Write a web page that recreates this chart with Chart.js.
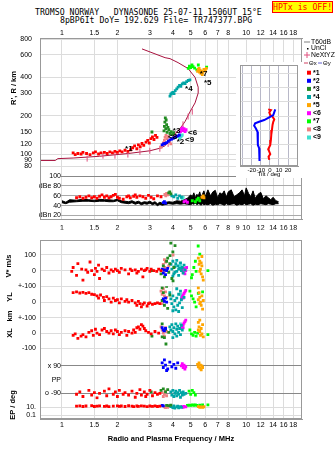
<!DOCTYPE html>
<html>
<head>
<meta charset="utf-8">
<title>Dynasonde ionogram</title>
<script src="https://cdn.jsdelivr.net/npm/chart.js@4/dist/chart.umd.min.js"></script>
<style>
  html, body { margin: 0; padding: 0; background: #fff; }
  #page { position: relative; width: 335px; height: 451px; overflow: hidden; }
  #page canvas { position: absolute; }
  .hdr { position: absolute; font: 8.2px 'DejaVu Sans Mono', monospace; line-height: 8px; white-space: pre; color: #000; }
  #hptx { position: absolute; left: 272px; top: 1px; width: 59px; height: 10px; border: 1px solid #f00; background: #ff0; color: #f00;
          font: 8.2px 'DejaVu Sans Mono', monospace; line-height: 10px; text-align: center; white-space: pre; }
</style>
</head>
<body>
<div id="page">
  <div class="hdr" style="left:35px;top:8px">TROMSO NORWAY   DYNASONDE 25-07-11 1506UT 15°E</div>
  <div class="hdr" style="left:60px;top:16px">8pBP6It DoY= 192.629 File= TR747377.BPG</div>
  <div id="hptx">HPTx is OFF!</div>
  <canvas id="topChart" width="335" height="232" style="left:0;top:0"></canvas>
  <canvas id="lowChart" width="335" height="219" style="left:0;top:232px"></canvas>
  <canvas id="tiltChart" width="66" height="116" style="left:236px;top:62px;background:#fff"></canvas>
</div>
<script>
// Axis ranges and ticks
const freqMin = 0.76, freqMax = 20.1;
const freqTicksTop = [1, 1.5, 2, 3, 4, 5, 6, 7, 8, 10, 12, 14, 16, 18];
const freqTicksMid = [1, 1.5, 2, 3, 4, 5, 6, 7, 8, 9, 10, 12, 14, 16, 18];
const freqTicksLow = [1, 1.5, 2, 3, 4, 5, 6, 7, 8, 10, 12, 14, 16, 18];
const heightTicks = [80, 90, 100, 120, 150, 200, 300, 400, 600, 800];
const dbTicks = [20, 40, 60, 80, 100];
const dbTickLabels = ['dBn 20', '40', '60', 'dBe 80', '100'];
const vTicks = [100, 0];
const vTickLabels = ['100', '0'];
const ylTicks = [100, 0, -100];
const ylTickLabels = ['+-100', '0', '+-100'];
const xlTicks = [0, -100];
const xlTickLabels = ['0', '-100'];
const ppTicks = [90, 0, -90];
const ppTickLabels = ['x 90', 'PP', 'o -90'];
const epTicks = [10, 0.1];
const epTickLabels = ['10.', '0.1'];
const tiltTicks = [-30, -20, -10, 0, 10, 20, 30];

// Echo groups
const echoTags = ['*1', '*2', '*3', '*4', '*5', '<6', '*7', '<8', '<9'];
const echoColors = ['#ff0000', '#0000ff', '#228b22', '#00a5a5', '#ffa500', '#ff00ff', '#00ff00', '#f08080', '#40e0d0'];
const tagFreq = [2.2, 4.2, 4.0, 4.66, 5.9, 4.84, 5.6, 3.77, 4.66];
const tagHeight = [110, 124, 151, 323, 362, 148, 430, 136, 129];

// Profile and NeXtYZ
const profileFreq = [0.76, 0.92, 0.95, 1.15, 1.6, 2.3, 3.0, 3.4, 3.63, 3.86, 4.11, 4.4, 4.66, 4.96, 5.28, 5.49, 5.49, 5.28, 4.84, 4.27, 3.86, 3.63, 2.72];
const profileHeight = [89, 89, 92, 93, 96, 101, 106, 111, 116, 129, 143, 160, 180, 215, 252, 301, 335, 400, 469, 522, 561, 571, 669];
const nextyzFreq = [1.37, 1.67, 1.94, 2.28, 2.65, 3.0, 3.4, 3.77, 4.11, 4.54, 4.84, 5.1];
const nextyzHeight = [92, 97, 97, 99, 104, 106, 110, 120, 143, 171, 197, 215];

// Noise band (dB)
const noiseFreq = [1.0, 1.05, 1.1, 1.2, 1.3, 1.4, 1.5, 1.6, 1.7, 1.8, 1.9, 2.0, 2.1, 2.2, 2.3, 2.4, 2.5, 2.6, 2.7, 2.8, 2.9, 3.0, 3.1, 3.2, 3.3, 3.4, 3.5, 3.6, 3.8, 4.0, 4.2, 4.4, 4.6, 4.8, 5.0,
  5.1, 5.2, 5.3, 5.4, 5.5, 5.6, 5.7, 5.8, 5.9, 6.0, 6.2, 6.4, 6.6, 6.8, 7.0, 7.2, 7.4, 7.6, 7.8, 8.0, 8.3, 8.6, 8.9, 9.2, 9.5, 9.8, 10.0, 10.3, 10.6, 10.9, 11.2, 11.6, 12.0, 12.4, 12.8, 13.2, 13.6, 14.0, 14.5, 15.0];
const noiseTop = [50, 47, 52, 51, 53, 52, 51, 53, 52, 52, 51, 53, 50, 49, 48, 50, 47, 49, 46, 48, 47, 49, 46, 48, 44, 47, 45, 46, 48, 47, 50, 49, 52, 55, 62,
  58, 66, 56, 63, 60, 68, 55, 64, 70, 58, 72, 60, 68, 71, 56, 66, 63, 70, 57, 68, 72, 58, 62, 66, 72, 60, 76, 65, 58, 70, 55, 63, 67, 54, 60, 56, 52, 57, 50, 48];
const noiseLow = [46, 44, 47, 48, 49, 49, 48, 49, 49, 48, 48, 50, 46, 45, 44, 46, 43, 45, 42, 44, 43, 45, 42, 44, 40, 43, 41, 42, 44, 43, 44, 43, 44, 43, 42,
  44, 43, 45, 42, 44, 43, 41, 44, 42, 43, 42, 44, 41, 43, 42, 44, 43, 41, 44, 42, 43, 44, 41, 43, 42, 44, 42, 43, 44, 41, 43, 42, 44, 43, 42, 44, 43, 42, 44, 44];

// Virtual height R' (km) per echo
const e1R = [[1.15,102],[1.18,99],[1.22,101],[1.27,100],[1.3,103],[1.36,101],[1.42,99],[1.48,102],[1.52,104],[1.58,100],[1.63,102],[1.7,103],[1.76,101],[1.82,104],[1.88,102],[1.94,105],[2.0,103],[2.06,106],[2.12,104],[2.2,107],[2.28,105],[2.36,108],[2.42,112],[2.48,116],[2.55,110],[2.6,118],[2.66,114],[2.72,121],[2.78,117],[2.86,124],[2.92,128],[2.98,122],[3.04,132],[3.1,136],[3.16,130],[3.22,140],[3.28,135]];
const e2R = [[3.5,118],[3.56,120],[3.62,121],[3.7,123],[3.78,126],[3.86,129],[3.94,131],[4.02,133],[4.1,135],[4.18,137],[4.26,139],[4.34,141]];
const e3R = [[3.08,149],[3.58,152],[3.6,165],[3.62,178],[3.64,192],[3.66,158],[3.68,185],[3.7,170],[3.72,148],[3.76,162],[3.8,155],[3.86,145],[3.92,150],[3.98,142],[4.04,147]];
const e4R = [[3.86,285],[3.9,295],[3.95,300],[4.0,304],[4.06,298],[4.12,315],[4.2,325],[4.27,335],[4.35,345],[4.42,340],[4.5,355],[4.58,362],[4.66,358],[4.75,370],[4.85,378],[4.95,382]];
const e5R = [[5.45,445],[5.5,462],[5.55,470],[5.58,440],[5.62,455],[5.68,430],[5.72,448],[5.78,420],[5.82,438],[5.9,462],[6.0,450],[6.08,470]];
const e6R = [[4.4,150],[4.45,156],[4.5,160],[4.55,153],[4.6,158],[4.66,150],[4.72,155]];
const e7R = [[4.85,470],[4.92,490],[5.0,478],[5.08,500],[5.15,485],[5.25,472],[5.4,458],[5.5,500],[6.1,482]];
const e8R = [[3.45,113],[3.5,118],[3.55,122],[3.6,128],[3.63,135],[3.67,140],[3.72,132],[3.78,137],[3.84,125],[3.9,120]];
const e9R = [[4.35,133],[4.4,136],[4.45,138],[4.5,141]];

// Amplitude (dB) per echo
const e1Db = [[1.2,56],[1.25,58],[1.3,55],[1.35,57],[1.4,60],[1.45,56],[1.5,58],[1.55,55],[1.6,59],[1.65,62],[1.7,57],[1.75,60],[1.8,56],[1.85,58],[1.9,61],[1.95,63],[2.0,57],[2.05,55],[2.15,53],[2.25,58],[2.3,60],[2.35,56],[2.45,59],[2.5,62],[2.55,57],[2.65,60],[2.75,58],[2.85,55],[2.95,61],[3.05,57],[3.15,54],[3.3,60],[3.45,58]];
const e2Db = [[3.55,46],[3.6,48],[3.65,45]];
const e3Db = [[3.8,66],[3.85,68],[3.9,64]];
const e4Db = [[3.95,60],[4.05,58],[4.15,62],[4.25,55],[4.35,60],[4.45,57]];
const e5Db = [[5.75,57],[5.85,60],[5.9,56]];
const e6Db = [[4.6,48],[4.7,50],[4.8,47]];
const e7Db = [[5.1,50],[5.3,48],[5.4,52],[5.5,55],[5.6,50]];
const e8Db = [[3.62,63],[3.66,60],[3.7,65],[3.75,62]];
const e9Db = [[4.5,55],[4.55,57]];

// V* (m/s) per echo
const e1V = [[1.13,-5],[1.15,20],[1.2,-30],[1.22,45],[1.28,10],[1.3,-60],[1.35,5],[1.38,-10],[1.42,55],[1.45,0],[1.5,-25],[1.52,15],[1.55,-5],[1.58,35],[1.6,-50],[1.65,10],[1.7,0],[1.75,20],[1.8,-15],[1.85,5],[1.9,-5],[1.95,10],[2.0,0],[2.05,-10],[2.1,15],[2.2,5],[2.3,-20],[2.35,10],[2.4,0],[2.5,5],[2.55,-15],[2.6,-5],[2.7,10],[2.75,-40],[2.8,0],[2.85,5],[2.9,15],[3.0,-5],[3.05,10],[3.15,0],[3.27,-5],[3.35,10],[3.45,0]];
const e2V = [[3.5,10],[3.55,-15],[3.6,5],[3.65,-25],[3.7,0],[3.75,15]];
const e3V = [[3.08,0],[3.45,-20],[3.55,30],[3.6,-40],[3.7,60],[3.75,80],[3.8,-10],[3.86,96],[3.9,175],[4.11,160],[4.0,120],[3.85,45],[4.05,20],[3.95,-50],[4.01,-65]];
const e4V = [[3.9,40],[3.95,10],[4.0,60],[4.05,-20],[4.1,25],[4.15,45],[4.2,-5],[4.25,30],[4.3,-30],[4.35,15],[4.4,50],[4.45,0],[4.5,20],[4.55,-15],[4.6,35],[4.65,5],[4.0,-35],[4.2,65],[4.1,-10],[4.3,10]];
const e5V = [[5.5,80],[5.55,40],[5.6,60],[5.65,10],[5.7,-20],[5.75,30],[5.8,-40],[5.6,-5],[5.7,50],[5.85,-60],[5.75,90]];
const e6V = [[4.5,5],[4.55,-10],[4.6,15],[4.65,-20],[4.7,0],[4.75,20],[4.6,-5]];
const e7V = [[5.49,157],[5.6,105],[5.3,60],[5.2,20],[5.1,-25],[5.05,-45],[5.35,-5],[6.2,0]];
const e8V = [[3.55,40],[3.6,70],[3.62,20],[3.65,55],[3.7,10],[4.01,100],[3.8,30],[3.6,-5]];
const e9V = [[4.38,46],[4.4,30]];

// YL (km) per echo
const e1YL = [[1.15,60],[1.2,65],[1.25,58],[1.3,62],[1.35,55],[1.4,60],[1.45,50],[1.5,48],[1.55,40],[1.58,25],[1.62,45],[1.68,30],[1.7,10],[1.75,35],[1.8,20],[1.85,0],[1.9,25],[1.95,10],[2.0,15],[2.05,-5],[2.1,20],[2.2,5],[2.25,15],[2.3,0],[2.4,10],[2.5,-5],[2.55,-20],[2.6,5],[2.65,-10],[2.7,-30],[2.75,-15],[2.8,-5],[2.9,-25],[2.95,-10],[3.0,-5],[3.1,-15],[3.2,-10],[3.3,-5],[3.4,-10]];
const e2YL = [[3.55,20],[3.6,5],[3.65,25],[3.7,0]];
const e3YL = [[3.5,90],[3.55,60],[3.6,-20],[3.7,100],[3.75,-40],[3.85,45],[3.5,10]];
const e4YL = [[3.85,60],[3.9,20],[3.95,-10],[4.0,40],[4.05,-30],[4.1,10],[4.15,-50],[4.2,25],[4.25,-20],[4.3,50],[4.35,-5],[4.4,70],[4.45,15],[4.5,-35],[4.0,-55],[4.2,85],[4.6,30],[4.3,-60]];
const e5YL = [[5.5,90],[5.55,60],[5.6,30],[5.65,0],[5.7,-20],[5.75,40],[5.8,-45],[5.6,-10],[5.5,15],[5.85,10]];
const e6YL = [[4.45,20],[4.5,35],[4.55,45],[4.6,55],[4.65,65],[4.7,75],[4.55,25]];
const e7YL = [[4.95,70],[5.05,40],[5.15,20],[5.25,0],[5.35,-30],[5.5,55],[5.8,65]];
const e8YL = [[3.45,70],[3.5,50],[3.55,85],[3.6,40],[3.65,65],[3.7,30],[3.5,-10]];
const e9YL = [[4.4,50],[4.45,35]];

// XL (km) per echo
const e1XL = [[1.15,-15],[1.18,-5],[1.22,-35],[1.27,-20],[1.3,-10],[1.35,-25],[1.4,5],[1.45,15],[1.48,-15],[1.52,25],[1.55,0],[1.6,-10],[1.65,20],[1.7,30],[1.75,10],[1.8,0],[1.85,15],[1.9,-5],[1.95,20],[2.0,10],[2.05,-10],[2.1,5],[2.2,15],[2.25,-15],[2.3,10],[2.4,0],[2.45,20],[2.5,5],[2.55,35],[2.6,40],[2.65,25],[2.7,55],[2.75,45],[2.8,30],[2.85,15],[2.95,5],[3.05,-5],[3.2,10],[3.35,0]];
const e2XL = [[3.5,35],[3.55,20],[3.6,15],[3.65,30]];
const e3XL = [[3.08,-20],[3.5,60],[3.6,-30],[3.65,25],[3.67,-72],[3.8,5],[3.5,-25]];
const e4XL = [[3.85,40],[3.9,20],[3.95,55],[4.0,10],[4.05,35],[4.1,-5],[4.15,60],[4.2,25],[4.25,45],[4.3,5],[4.35,30],[4.4,-10],[4.45,50],[4.5,20],[4.0,-30],[4.2,-20]];
const e5XL = [[5.5,70],[5.55,40],[5.6,10],[5.65,-15],[5.7,30],[5.75,-5],[5.8,55],[5.6,85],[5.85,-25],[5.5,20]];
const e6XL = [[4.45,30],[4.5,40],[4.55,55],[4.6,65],[4.65,75],[4.7,85],[4.55,35]];
const e7XL = [[4.95,20],[5.05,-5],[5.15,-15],[5.25,5],[5.35,-20],[5.45,0],[6.2,-10]];
const e8XL = [[3.45,40],[3.5,20],[3.55,0],[3.6,-20],[3.65,35],[3.7,10]];
const e9XL = [[4.4,60],[4.45,45]];

// Polarization PP (deg) per echo
const e1PP = [[1.2,-95],[1.25,-80],[1.3,-110],[1.4,-70],[1.45,-100],[1.5,-85],[1.55,-120],[1.6,-90],[1.7,-75],[1.75,-105],[1.8,-60],[1.9,-95],[1.95,-80],[2.0,-110],[2.05,-70],[2.15,-95],[2.2,-85],[2.3,-100],[2.4,-75],[2.5,-115],[2.55,-90],[2.65,-65],[2.7,-100],[2.8,-80],[2.85,-110],[2.9,-95],[3.0,-70],[3.1,-105],[3.2,-85],[3.3,-95],[3.4,-90]];
const e2PP = [[3.5,110],[3.55,80],[3.6,130],[3.65,95],[3.75,70],[3.85,115],[3.95,85],[4.05,100],[4.15,75],[4.25,110],[3.7,60]];
const e3PP = [[3.05,-80],[3.45,-70],[3.55,-60],[3.65,-80],[3.75,-65]];
const e4PP = [[3.9,-80],[3.95,-100],[4.0,-70],[4.05,-110],[4.1,-90],[4.15,-75],[4.2,-105],[4.25,-85],[4.3,-95],[4.35,-70],[4.4,-115],[4.45,-85],[4.5,-100],[4.55,-80],[4.6,-95],[4.7,-90]];
const e5PP = [[5.45,100],[5.5,85],[5.55,110],[5.6,75],[5.65,95],[5.7,65],[5.75,90],[5.8,80]];
const e6PP = [[4.45,90],[4.5,105],[4.55,80],[4.6,95],[4.7,85],[4.65,70]];
const e7PP = [[4.9,-75],[5.0,-95],[5.1,-70],[5.2,-85],[5.3,-100]];
const e8PP = [[3.5,-85],[3.55,-110],[3.6,-95],[3.65,-75],[3.7,-105]];
const e9PP = [];

// EP (deg) per echo
const e1EP = [[1.2,18],[1.25,22],[1.3,15],[1.35,20],[1.45,25],[1.5,15],[1.55,18],[1.6,22],[1.7,16],[1.75,20],[1.8,14],[1.9,18],[2.0,22],[2.05,16],[2.1,20],[2.2,15],[2.3,24],[2.4,18],[2.45,14],[2.55,20],[2.6,16],[2.7,22],[2.8,18],[2.9,14],[3.0,20],[3.1,17],[3.2,22],[3.3,15],[3.4,19]];
const e2EP = [[3.5,28],[3.55,22]];
const e3EP = [[3.7,30],[3.8,25],[3.9,35]];
const e4EP = [[3.9,15],[4.0,8],[4.05,20],[4.1,6],[4.2,12],[4.25,18],[4.3,7],[4.4,14],[4.45,9]];
const e5EP = [[5.5,14],[5.6,10],[5.7,12],[5.8,9],[5.9,13]];
const e6EP = [[4.5,14],[4.55,10],[4.6,16],[4.7,12]];
const e7EP = [[4.8,28],[4.9,35],[5.0,30],[5.1,40],[5.2,32],[5.3,38],[5.4,30],[5.6,34],[5.8,36],[6.2,40]];
const e8EP = [[3.6,12],[3.65,8],[3.7,14],[3.75,10]];
const e9EP = [];

// Tilt inset
const blueTiltDeg = [5.9, 3.7, -0.8, -6.3, -11.9, -16.3, -17.4, -15.6, -13.7, -13.3, -13.3, -11.9, -11.1, -11.9, -11.1, -11.9];
const blueTiltLevel = [3.48, 3.08, 2.92, 2.73, 2.61, 2.5, 2.33, 2.15, 1.91, 1.45, 0.98, 0.75, 0.51, 0.28, 0.05, -0.14];
const redTiltDeg = [-1.9, 1.1, -0.7, 0.4, 2.9, 4.8, 3.7, 2.9, 2.2, 1.5, 1.1, 0.4, -1.9, -0.7, 0.4, -1.5, -0.7];
const redTiltLevel = [3.48, 3.43, 3.27, 3.08, 2.96, 2.78, 2.61, 2.38, 2.03, 1.68, 1.33, 0.98, 0.68, 0.51, 0.33, 0.16, -0.07];

Chart.defaults.font.family = "'Liberation Sans', Arial, sans-serif";
Chart.defaults.color = '#000';
Chart.defaults.animation = false;

const tickFont = { size: 7 };
const pairs = (arr) => arr.map(([x, y]) => ({ x, y }));
const zip = (a, b) => a.map((v, i) => ({ x: v, y: b[i] }));
const fixTicks = (vals) => (s) => { s.ticks = vals.map(v => ({ value: v })); };
const labelOf = (vals, labels) => (v) => { const i = vals.indexOf(v); return i < 0 ? '' : labels[i]; };

function echoSets(groups, yAxisID) {
  return groups.map((g, i) => ({
    data: pairs(g), xAxisID: 'x', yAxisID, showLine: false,
    pointStyle: 'rect', pointRadius: 2, pointBorderWidth: 0,
    backgroundColor: echoColors[i], borderColor: echoColors[i], order: 1
  }));
}

function freqAxis(position, ticksList, padding, height, showGrid) {
  return {
    type: 'logarithmic', position, min: freqMin, max: freqMax,
    afterBuildTicks: fixTicks(ticksList),
    afterFit: (s) => { s.height = height; },
    ticks: { font: tickFont, padding, autoSkip: false, maxRotation: 0, callback: (v) => String(v) },
    grid: { display: showGrid, color: '#dcdcdc', drawTicks: false },
    border: { color: '#999' }
  };
}

// Frame round the plot area
const framePlugin = {
  id: 'frame',
  afterDraw(chart) {
    const { ctx, chartArea: a } = chart;
    ctx.save();
    ctx.strokeStyle = '#999';
    ctx.lineWidth = 1;
    ctx.strokeRect(Math.round(a.left) + 0.5, Math.round(a.top) + 0.5, Math.round(a.right - a.left) - 1, Math.round(a.bottom - a.top) - 1);
    ctx.restore();
  }
};

// Tick labels drawn inside the plot area (dB and PP rows)
const innerLabelsPlugin = {
  id: 'innerLabels',
  afterDatasetsDraw(chart, args, opts) {
    if (!opts.sets) return;
    const { ctx, chartArea: a } = chart;
    ctx.save();
    ctx.font = "7px 'Liberation Sans', Arial, sans-serif";
    ctx.textAlign = 'right';
    ctx.textBaseline = 'middle';
    opts.sets.forEach(set => {
      const scale = chart.scales[set.axis];
      set.values.forEach((v, i) => {
        const y = scale.getPixelForValue(v);
        ctx.fillStyle = '#fff';
        ctx.fillRect(a.left + 1, y - 4, 20, 8);
        ctx.fillStyle = '#000';
        ctx.fillText(set.labels[i], a.left + 21, y);
      });
    });
    ctx.restore();
  }
};

// Rotated axis titles at the far left
const sideTitlesPlugin = {
  id: 'sideTitles',
  afterDraw(chart, args, opts) {
    if (!opts.items) return;
    const { ctx } = chart;
    ctx.save();
    ctx.font = "bold 7.5px 'Liberation Sans', Arial, sans-serif";
    ctx.fillStyle = '#000';
    ctx.textAlign = 'center';
    ctx.textBaseline = 'middle';
    opts.items.forEach(it => {
      ctx.save();
      ctx.translate(it.x, it.y);
      ctx.rotate(-Math.PI / 2);
      ctx.fillText(it.text, 0, 0);
      ctx.restore();
    });
    ctx.restore();
  }
};

// Echo group tags next to their clusters
const clusterTagsPlugin = {
  id: 'clusterTags',
  afterDatasetsDraw(chart, args, opts) {
    if (!opts.tags) return;
    const { ctx } = chart;
    const xs = chart.scales.x, ys = chart.scales.yR;
    ctx.save();
    ctx.font = "bold 8px 'Liberation Sans', Arial, sans-serif";
    ctx.fillStyle = '#000';
    ctx.textBaseline = 'middle';
    opts.tags.forEach((t, i) => ctx.fillText(t, xs.getPixelForValue(tagFreq[i]), ys.getPixelForValue(tagHeight[i])));
    ctx.restore();
  }
};

// Legend in the right margin
const echoLegendPlugin = {
  id: 'echoLegend',
  afterDraw(chart, args, opts) {
    if (!opts.show) return;
    const { ctx, chartArea: a } = chart;
    const x0 = Math.round(a.right) + 1;
    ctx.save();
    ctx.font = "6.8px 'Liberation Sans', Arial, sans-serif";
    ctx.textBaseline = 'middle';
    ctx.fillStyle = '#000';
    ctx.lineWidth = 1.5;
    ctx.strokeStyle = '#aaa';
    ctx.beginPath(); ctx.moveTo(x0 + 1, 42); ctx.lineTo(x0 + 7, 42); ctx.stroke();
    ctx.fillText('T60dB', x0 + 8, 42);
    ctx.fillRect(x0 + 4, 48, 1.5, 1.5);
    ctx.fillText('UnCl', x0 + 8, 48.5);
    ctx.strokeStyle = '#e0507f'; ctx.lineWidth = 1;
    ctx.beginPath(); ctx.moveTo(x0 + 1, 55); ctx.lineTo(x0 + 7, 55); ctx.moveTo(x0 + 4, 52); ctx.lineTo(x0 + 4, 58); ctx.stroke();
    ctx.fillText('NeXtYZ', x0 + 8, 55);
    ctx.font = "6px 'Liberation Sans', Arial, sans-serif";
    ctx.strokeStyle = '#d04060';
    ctx.beginPath(); ctx.moveTo(x0 + 1, 63); ctx.lineTo(x0 + 5, 63); ctx.stroke();
    ctx.fillText('\u0398x', x0 + 6, 63);
    ctx.strokeStyle = '#6060d0';
    ctx.beginPath(); ctx.moveTo(x0 + 15, 63); ctx.lineTo(x0 + 19, 63); ctx.stroke();
    ctx.fillText('\u0398y', x0 + 20, 63);
    ctx.font = "bold 7px 'Liberation Sans', Arial, sans-serif";
    echoTags.forEach((t, i) => {
      const y = 72.7 + i * 8.1;
      ctx.fillStyle = echoColors[i];
      ctx.fillRect(x0 + 4, y - 2, 4, 4);
      ctx.fillStyle = '#000';
      ctx.fillText(t, x0 + 10, y);
    });
    ctx.restore();
  }
};

const plugins = [framePlugin, innerLabelsPlugin, sideTitlesPlugin, clusterTagsPlugin, echoLegendPlugin];

// Top chart: virtual height and amplitude
new Chart(document.getElementById('topChart'), {
  type: 'scatter',
  data: {
    datasets: [
      ...echoSets([e1R, e2R, e3R, e4R, e5R, e6R, e7R, e8R, e9R], 'yR'),
      ...echoSets([e1Db, e2Db, e3Db, e4Db, e5Db, e6Db, e7Db, e8Db, e9Db], 'yDb'),
      { data: zip(nextyzFreq, nextyzHeight), xAxisID: 'x', yAxisID: 'yR', showLine: false,
        pointStyle: 'line', rotation: 90, pointRadius: 3, borderColor: '#e0507f', borderWidth: 1, order: 2 },
      { data: zip(profileFreq, profileHeight), xAxisID: 'x', yAxisID: 'yR', showLine: true,
        borderColor: '#a8123e', borderWidth: 1, pointRadius: 0, order: 3 },
      { data: zip(noiseFreq, noiseTop), xAxisID: 'x', yAxisID: 'yDb', showLine: true, fill: '+1',
        borderColor: '#000', backgroundColor: '#000', borderWidth: 1, pointRadius: 0, order: 9 },
      { data: zip(noiseFreq, noiseLow), xAxisID: 'x', yAxisID: 'yDb', showLine: true, fill: false,
        borderColor: '#000', borderWidth: 1, pointRadius: 0, order: 9 }
    ]
  },
  options: {
    responsive: false, devicePixelRatio: 1, events: [],
    layout: { padding: { top: 22, right: 33, left: 0, bottom: 0 } },
    scales: {
      x: freqAxis('top', freqTicksTop, 1, 16, true),
      x2: freqAxis('bottom', freqTicksMid, 4, 10, false),
      yR: {
        type: 'logarithmic', position: 'left', stack: 'top', stackWeight: 139, weight: 2,
        min: 68, max: 815,
        afterBuildTicks: fixTicks(heightTicks),
        afterFit: (s) => { s.width = 40; },
        ticks: { font: tickFont, padding: 8, autoSkip: false, callback: (v) => String(v) },
        grid: { color: '#dcdcdc', drawTicks: false },
        border: { color: '#999' }
      },
      yDb: {
        type: 'linear', position: 'left', stack: 'top', stackWeight: 45, weight: 1,
        min: 11.4, max: 101.4,
        afterBuildTicks: fixTicks(dbTicks),
        afterFit: (s) => { s.width = 40; },
        ticks: { display: false },
        grid: { color: (c) => c.tick && c.tick.value === 100 ? '#888' : '#aaa', drawTicks: false },
        border: { color: '#999' }
      }
    },
    plugins: {
      legend: { display: false }, tooltip: { enabled: false },
      innerLabels: { sets: [{ axis: 'yDb', values: dbTicks, labels: dbTickLabels }] },
      sideTitles: { items: [{ text: "R', R / km", x: 14, y: 88 }] },
      clusterTags: { tags: echoTags },
      echoLegend: { show: true }
    }
  },
  plugins
});

// Lower chart: V*, YL, XL, PP, EP
function rowAxis(type, weight, order, min, max, vals, labels, extra) {
  return Object.assign({
    type, position: 'left', stack: 'low', stackWeight: weight, weight: order, min, max,
    afterBuildTicks: fixTicks(vals),
    afterFit: (s) => { s.width = 40; },
    ticks: { font: tickFont, padding: 4, autoSkip: false, callback: labelOf(vals, labels) },
    grid: { color: '#dcdcdc', drawTicks: false },
    border: { color: '#999' }
  }, extra || {});
}

new Chart(document.getElementById('lowChart'), {
  type: 'scatter',
  data: {
    datasets: [
      ...echoSets([e1V, e2V, e3V, e4V, e5V, e6V, e7V, e8V, e9V], 'yV'),
      ...echoSets([e1YL, e2YL, e3YL, e4YL, e5YL, e6YL, e7YL, e8YL, e9YL], 'yYL'),
      ...echoSets([e1XL, e2XL, e3XL, e4XL, e5XL, e6XL, e7XL, e8XL, e9XL], 'yXL'),
      ...echoSets([e1PP, e2PP, e3PP, e4PP, e5PP, e6PP, e7PP, e8PP, e9PP], 'yPP'),
      ...echoSets([e1EP, e2EP, e3EP, e4EP, e5EP, e6EP, e7EP, e8EP, e9EP], 'yEP')
    ]
  },
  options: {
    responsive: false, devicePixelRatio: 1, events: [],
    layout: { padding: { top: 5, right: 33, left: 0, bottom: 0 } },
    scales: {
      x: Object.assign(freqAxis('bottom', freqTicksLow, 2, 32, true), {
        title: { display: true, text: 'Radio and Plasma Frequency / MHz', font: { size: 7.5, weight: 'bold' }, padding: { top: 0, bottom: 8 } }
      }),
      yV: rowAxis('linear', 47, 5, -100, 194, vTicks, vTickLabels),
      yYL: rowAxis('linear', 32, 4, -100, 100, ylTicks, ylTickLabels),
      yXL: rowAxis('linear', 36, 3, -132, 100, xlTicks, xlTickLabels),
      yPP: rowAxis('linear', 47, 2, -128.6, 173.6, ppTicks, ppTickLabels, {
        ticks: { display: false },
        grid: { color: (c) => c.tick && c.tick.value === 0 ? 'rgba(0,0,0,0)' : '#888', drawTicks: false }
      }),
      yEP: rowAxis('logarithmic', 20, 1, 0.01, 1000, epTicks, epTickLabels)
    },
    plugins: {
      legend: { display: false }, tooltip: { enabled: false },
      innerLabels: { sets: [{ axis: 'yPP', values: ppTicks, labels: ppTickLabels }] },
      sideTitles: { items: [
        { text: 'V* m/s', x: 9, y: 34 },
        { text: 'YL', x: 10, y: 65 },
        { text: 'km', x: 10, y: 84 },
        { text: 'XL', x: 10, y: 101 },
        { text: 'EP / deg', x: 13, y: 173 }
      ] }
    }
  },
  plugins
});

// Tilt inset
new Chart(document.getElementById('tiltChart'), {
  type: 'scatter',
  data: {
    datasets: [
      { data: zip(blueTiltDeg, blueTiltLevel), showLine: true, borderColor: '#0000ff', borderWidth: 2, pointRadius: 0 },
      { data: zip(redTiltDeg, redTiltLevel), showLine: true, borderColor: '#ff0000', borderWidth: 2, pointRadius: 0 }
    ]
  },
  options: {
    responsive: false, devicePixelRatio: 1, events: [],
    layout: { padding: { top: 3, right: 4, left: 4, bottom: 0 } },
    scales: {
      x: {
        type: 'linear', position: 'bottom', min: -33, max: 31,
        afterBuildTicks: fixTicks(tiltTicks),
        afterFit: (s) => { s.height = 12; },
        ticks: { font: { size: 6 }, padding: 1, autoSkip: false, maxRotation: 0, callback: (v) => (v === -30 || v === 30) ? '' : String(v) },
        grid: { color: '#b8b8c8', drawTicks: false },
        border: { color: '#999' },
        title: { display: true, text: 'Tilt / deg', font: { size: 6 }, padding: 0 }
      },
      y: {
        type: 'linear', min: -0.5, max: 6.6,
        afterBuildTicks: fixTicks([0, 1, 2, 3, 4, 5, 6]),
        afterFit: (s) => { s.width = 0; },
        ticks: { display: false },
        grid: { color: '#dcdcdc', drawTicks: false },
        border: { color: '#999' }
      }
    },
    plugins: { legend: { display: false }, tooltip: { enabled: false } }
  },
  plugins: [framePlugin]
});
</script>
</body>
</html>
